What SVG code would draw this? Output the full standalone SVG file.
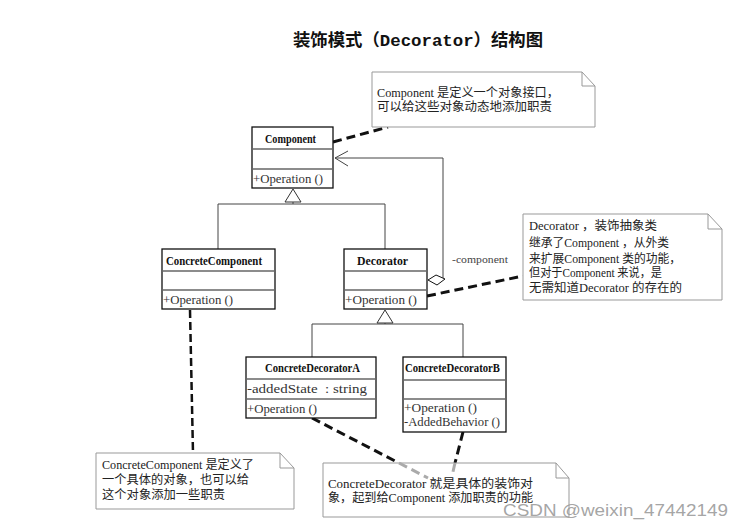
<svg xmlns="http://www.w3.org/2000/svg" width="748" height="527" viewBox="0 0 748 527">
<style>
.box{fill:#fff;stroke:#111;stroke-width:1.3}
.div{stroke:#666;stroke-width:1.5}
.t{font-family:"Liberation Serif","Noto Sans CJK SC",serif;font-size:12px;fill:#222}
.tb{font-family:"Liberation Serif","Noto Sans CJK SC",serif;font-size:11.5px;font-weight:bold;fill:#111}
.ta{font-family:"Liberation Serif","Noto Sans CJK SC",serif;font-size:12px;fill:#333}
.note{fill:#fff;stroke:#999;stroke-width:1}
.fold{fill:none;stroke:#999;stroke-width:1}
.gen{fill:none;stroke:#444;stroke-width:1}
.tri{fill:#fff;stroke:#333;stroke-width:1}
.dash{fill:none;stroke:#111;stroke-width:3;stroke-dasharray:9 5}
.dashg{fill:none;stroke:#aaa;stroke-width:3;stroke-dasharray:9 5}
</style>
<rect width="748" height="527" fill="#fff"/>
<text id="title" x="293" y="46" font-family="'Liberation Mono','Noto Sans CJK SC',monospace" font-size="17" font-weight="bold" fill="#111" textLength="250" lengthAdjust="spacingAndGlyphs">装饰模式（Decorator）结构图</text>

<g id="connectors">
  <polyline class="gen" points="218,249 218,204 385,204 385,249"/>
  <line class="gen" x1="293" y1="202" x2="293" y2="204"/>
  <polygon class="tri" points="293,189 285,202 301,202"/>
  <polyline class="gen" points="312,357 312,324 463,324 463,357"/>
  <line class="gen" x1="385" y1="323" x2="385" y2="324"/>
  <polygon class="tri" points="385,310 377,323 393,323"/>
  <polyline class="gen" points="443,278 443,158 335,158"/>
  <polyline class="gen" points="348,151 335,158 348,166"/>
  <polygon fill="#fff" stroke="#111" stroke-width="1" points="428,280 436,275 445,279 437,285"/>
  <text x="452" y="263" font-family="'Liberation Serif',serif" font-size="11" fill="#444" textLength="56" lengthAdjust="spacingAndGlyphs">-component</text>
  <line class="dash" x1="333" y1="142" x2="388" y2="127"/>
  <line class="dash" x1="427" y1="296" x2="523" y2="276"/>
  <line class="dash" style="stroke-width:2.5;stroke-dasharray:8 4" x1="190" y1="310" x2="193" y2="453"/>
  <line class="dash" x1="312" y1="418" x2="399" y2="463"/>
  <line class="dash" x1="463" y1="432" x2="455" y2="463"/>
</g>

<g id="Component">
  <rect class="box" x="252" y="127" width="81" height="61"/>
  <line class="div" x1="252" y1="149" x2="333" y2="149"/>
  <line class="div" x1="252" y1="169" x2="333" y2="169"/>
  <text class="tb" x="265" y="143" textLength="51" lengthAdjust="spacingAndGlyphs">Component</text>
  <text class="ta" x="253" y="183" textLength="70" lengthAdjust="spacingAndGlyphs">+Operation ()</text>
</g>

<g id="ConcreteComponent">
  <rect class="box" x="162" y="249" width="113" height="60"/>
  <line class="div" x1="162" y1="271" x2="275" y2="271"/>
  <line class="div" x1="162" y1="290" x2="275" y2="290"/>
  <text class="tb" x="166" y="265" textLength="96" lengthAdjust="spacingAndGlyphs">ConcreteComponent</text>
  <text class="ta" x="163" y="304" textLength="70" lengthAdjust="spacingAndGlyphs">+Operation ()</text>
</g>

<g id="Decorator">
  <rect class="box" x="344" y="249" width="83" height="60"/>
  <line class="div" x1="344" y1="271" x2="427" y2="271"/>
  <line class="div" x1="344" y1="290" x2="427" y2="290"/>
  <text class="tb" x="357" y="265" textLength="51" lengthAdjust="spacingAndGlyphs">Decorator</text>
  <text class="ta" x="345" y="304" textLength="72" lengthAdjust="spacingAndGlyphs">+Operation ()</text>
</g>

<g id="ConcreteDecoratorA">
  <rect class="box" x="246" y="357" width="130" height="61"/>
  <line class="div" x1="246" y1="379" x2="376" y2="379"/>
  <line class="div" x1="246" y1="399" x2="376" y2="399"/>
  <text class="tb" x="265" y="372" textLength="95" lengthAdjust="spacingAndGlyphs">ConcreteDecoratorA</text>
  <text class="ta" x="247" y="393" textLength="120" lengthAdjust="spacingAndGlyphs">-addedState&#160; : string</text>
  <text class="ta" x="247" y="413" textLength="70" lengthAdjust="spacingAndGlyphs">+Operation ()</text>
</g>

<g id="ConcreteDecoratorB">
  <rect class="box" x="403" y="357" width="103" height="75"/>
  <line class="div" x1="403" y1="380" x2="506" y2="380"/>
  <line class="div" x1="403" y1="399" x2="506" y2="399"/>
  <text class="tb" x="405" y="372" textLength="95" lengthAdjust="spacingAndGlyphs">ConcreteDecoratorB</text>
  <text class="ta" x="404" y="412" textLength="73" lengthAdjust="spacingAndGlyphs">+Operation ()</text>
  <text class="ta" x="404" y="426" textLength="96" lengthAdjust="spacingAndGlyphs">-AddedBehavior ()</text>
</g>

<g id="note-component">
  <path class="note" d="M372,72 H582 L595,86 V127 H372 Z"/>
  <path class="fold" d="M582,72 V86 H595"/>
  <text class="t" x="377" y="97" textLength="182" lengthAdjust="spacingAndGlyphs">Component 是定义一个对象接口，</text>
  <text class="t" x="377" y="111" textLength="175" lengthAdjust="spacingAndGlyphs">可以给这些对象动态地添加职责</text>
</g>

<g id="note-decorator">
  <path class="note" d="M523,214 H708 L722,229 V300 H523 Z"/>
  <path class="fold" d="M708,214 V229 H722"/>
  <text class="t" x="529" y="230" textLength="128" lengthAdjust="spacingAndGlyphs">Decorator ，装饰抽象类</text>
  <text class="t" x="529" y="247" textLength="140" lengthAdjust="spacingAndGlyphs">继承了Component ，从外类</text>
  <text class="t" x="529" y="263" textLength="152" lengthAdjust="spacingAndGlyphs">来扩展Component 类的功能，</text>
  <text class="t" x="529" y="277" textLength="133" lengthAdjust="spacingAndGlyphs">但对于Component 来说，是</text>
  <text class="t" x="529" y="292" textLength="153" lengthAdjust="spacingAndGlyphs">无需知道Decorator 的存在的</text>
</g>

<g id="note-concretecomponent">
  <path class="note" d="M96,453 H280 L294,468 V509 H96 Z"/>
  <path class="fold" d="M280,453 V468 H294"/>
  <text class="t" x="102" y="469" textLength="152" lengthAdjust="spacingAndGlyphs">ConcreteComponent 是定义了</text>
  <text class="t" x="102" y="484" textLength="147" lengthAdjust="spacingAndGlyphs">一个具体的对象，也可以给</text>
  <text class="t" x="102" y="499" textLength="123" lengthAdjust="spacingAndGlyphs">这个对象添加一些职责</text>
</g>

<g id="note-concretedecorator">
  <path class="note" d="M323,463 H556 L569,478 V517 H323 Z"/>
  <path class="fold" d="M556,463 V478 H569"/>
  <line class="dashg" x1="399" y1="463" x2="428" y2="478"/>
  <line class="dashg" x1="455" y1="463" x2="452" y2="476"/>
  <text class="t" x="328" y="488" textLength="205" lengthAdjust="spacingAndGlyphs">ConcreteDecorator 就是具体的装饰对</text>
  <text class="t" x="328" y="502" textLength="205" lengthAdjust="spacingAndGlyphs">象，起到给Component 添加职责的功能</text>
</g>

<text id="watermark" x="503" y="516" font-family="'Liberation Sans',Arial,sans-serif" font-size="17" fill="#9a9a9a" fill-opacity="0.9" textLength="225" lengthAdjust="spacingAndGlyphs">CSDN @weixin_47442149</text>
</svg>
